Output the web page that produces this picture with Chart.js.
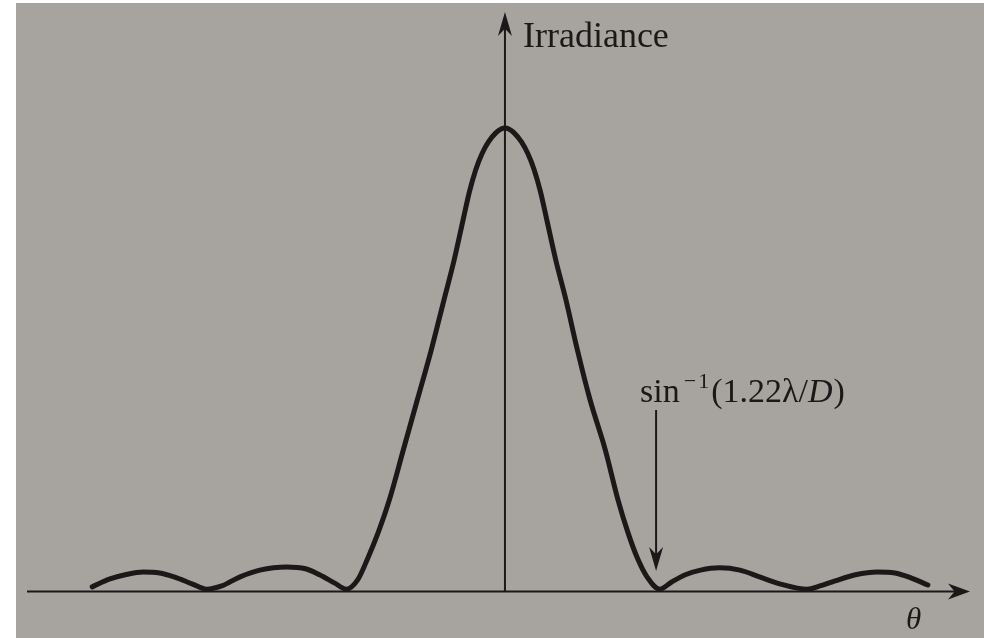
<!DOCTYPE html>
<html>
<head>
<meta charset="utf-8">
<script src="https://cdn.jsdelivr.net/npm/chart.js@4.4.1/dist/chart.umd.min.js"></script>
<style>
  html, body { margin: 0; padding: 0; background: #ffffff; }
  #chart { display: block; }
</style>
</head>
<body>
<canvas id="chart" width="984" height="638"></canvas>
<script>
// angle in units of lambda/D
const thetaValues = [-3.25, -3.11, -2.99, -2.85, -2.72, -2.60, -2.46, -2.35, -2.23, -2.09,
  -1.93, -1.72, -1.57, -1.46, -1.34, -1.25, -1.16, -1.08, -1.00, -0.91,
  -0.80, -0.69, -0.58, -0.48, -0.40, -0.33, -0.28, -0.23, -0.18, -0.13,
  -0.07, -0.03, 0, 0.03, 0.07, 0.13, 0.18, 0.23, 0.28, 0.33, 0.40, 0.48,
  0.57, 0.67, 0.79, 0.89, 0.97, 1.04, 1.12, 1.22, 1.31, 1.42,
  1.54, 1.69, 1.85, 2.01, 2.17, 2.38, 2.48, 2.60, 2.76, 2.93,
  3.07, 3.20, 3.33];
// relative irradiance (peak = 1)
const irradianceValues = [0.009, 0.026, 0.035, 0.041, 0.039, 0.030, 0.015, 0.004, 0.011, 0.030,
  0.045, 0.052, 0.048, 0.035, 0.017, 0.004, 0.024, 0.071, 0.125, 0.197,
  0.305, 0.413, 0.521, 0.629, 0.715, 0.801, 0.862, 0.910, 0.945, 0.970,
  0.990, 0.998, 1.0, 0.998, 0.990, 0.970, 0.945, 0.910, 0.862, 0.801, 0.715, 0.629,
  0.521, 0.413, 0.305, 0.197, 0.125, 0.073, 0.030, 0.004, 0.019, 0.035,
  0.045, 0.050, 0.045, 0.030, 0.015, 0.004, 0.011, 0.022, 0.035, 0.041,
  0.039, 0.028, 0.013];

const yAxisLabel = "Irradiance";
const xAxisLabel = "θ";
const markerTheta = 1.19;   // first dark ring
const ink = "#1b1918";

const points = thetaValues.map((t, i) => ({ x: t, y: irradianceValues[i] }));

function arrowHead(ctx, tipX, tipY, dirX, dirY, len, half) {
  // barbed arrow head pointing along (dirX, dirY)
  const px = -dirY, py = dirX;
  const bx = tipX - dirX * len, by = tipY - dirY * len;
  const nx = tipX - dirX * len * 0.7, ny = tipY - dirY * len * 0.7;
  ctx.beginPath();
  ctx.moveTo(tipX, tipY);
  ctx.lineTo(bx + px * half, by + py * half);
  ctx.lineTo(nx, ny);
  ctx.lineTo(bx - px * half, by - py * half);
  ctx.closePath();
  ctx.fill();
}

const paper = {
  id: "paper",
  beforeDraw(chart) {
    const ctx = chart.ctx;
    ctx.save();
    ctx.fillStyle = "#ffffff";
    ctx.fillRect(0, 0, chart.width, chart.height);
    ctx.fillStyle = "#a7a4a0";
    ctx.fillRect(16, 3, chart.width - 16, chart.height - 3);
    ctx.restore();
  }
};

const decorations = {
  id: "decorations",
  afterDatasetsDraw(chart) {
    const ctx = chart.ctx;
    const xs = chart.scales.x, ys = chart.scales.y;
    const x0 = xs.getPixelForValue(0);
    const y0 = ys.getPixelForValue(0) + 0.5;
    ctx.save();
    ctx.strokeStyle = ink;
    ctx.fillStyle = ink;
    ctx.lineWidth = 2;

    // horizontal axis
    ctx.beginPath();
    ctx.moveTo(27, y0);
    ctx.lineTo(960, y0);
    ctx.stroke();
    arrowHead(ctx, 970, y0, 1, 0, 22, 8);

    // vertical axis
    ctx.beginPath();
    ctx.moveTo(x0, y0);
    ctx.lineTo(x0, 25);
    ctx.stroke();
    arrowHead(ctx, x0, 12, 0, -1, 24, 7);

    // marker arrow
    const mx = xs.getPixelForValue(markerTheta);
    ctx.beginPath();
    ctx.moveTo(mx, 410);
    ctx.lineTo(mx, 555);
    ctx.stroke();
    arrowHead(ctx, mx, 571, 0, 1, 24, 7);

    // texts
    ctx.textBaseline = "alphabetic";
    ctx.font = '36px "Liberation Serif"';
    ctx.fillText(yAxisLabel, x0 + 18, 47);

    ctx.font = 'italic 31px "Liberation Serif"';
    ctx.fillText(xAxisLabel, 906, 629);

    // sin^-1(1.22λ/D)
    let tx = mx - 16;
    const base = 402;
    ctx.font = '34px "Liberation Serif"';
    ctx.fillText("sin", tx, base);
    tx += ctx.measureText("sin").width + 4;
    ctx.font = '22px "Liberation Serif"';
    ctx.fillText("\u2212", tx, base - 14);
    tx += ctx.measureText("\u2212").width + 2;
    ctx.fillText("1", tx, base - 14);
    tx += ctx.measureText("1").width + 2;
    ctx.font = '34px "Liberation Serif"';
    ctx.fillText("(1.22λ/", tx, base);
    tx += ctx.measureText("(1.22λ/").width;
    ctx.font = 'italic 34px "Liberation Serif"';
    ctx.fillText("D", tx, base);
    tx += ctx.measureText("D").width + 1;
    ctx.font = '34px "Liberation Serif"';
    ctx.fillText(")", tx, base);
    ctx.restore();
  }
};

const ctx = document.getElementById("chart").getContext("2d");
const chart = new Chart(ctx, {
  type: "line",
  data: {
    datasets: [{
      data: points,
      borderColor: ink,
      borderWidth: 5,
      borderCapStyle: "round",
      borderJoinStyle: "round",
      pointRadius: 0,
      fill: false,
      cubicInterpolationMode: "monotone"
    }]
  },
  options: {
    responsive: false,
    animation: false,
    devicePixelRatio: 1,
    layout: { padding: 0 },
    plugins: {
      legend: { display: false },
      tooltip: { enabled: false }
    },
    scales: {
      x: { type: "linear", display: false, min: -3.976, max: 3.772 },
      y: { type: "linear", display: false, min: -0.1015, max: 1.2765 }
    }
  },
  plugins: [paper, decorations]
});
</script>
</body>
</html>
